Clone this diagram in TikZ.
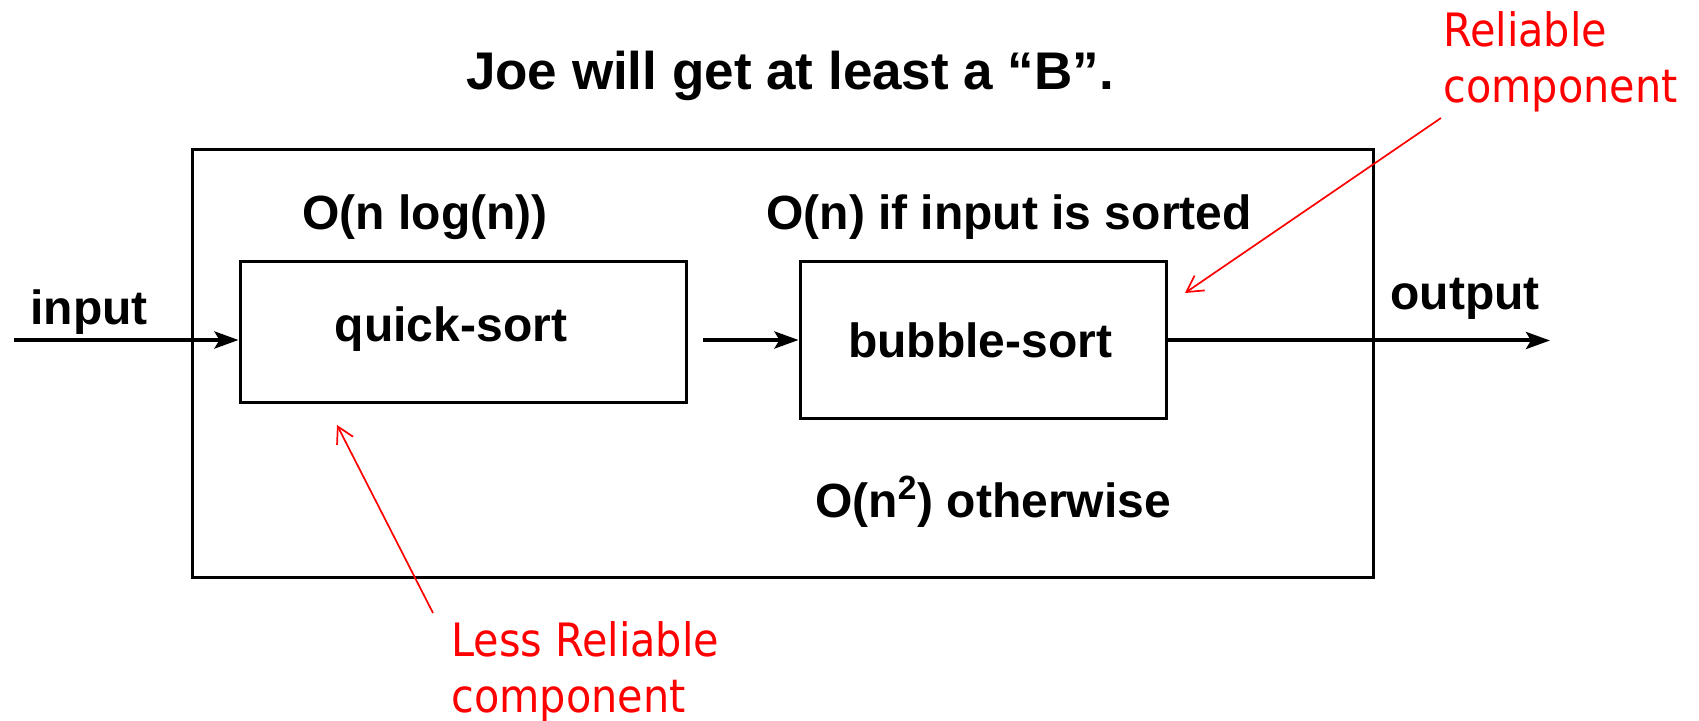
\documentclass[tikz,border=0pt]{standalone}
\usepackage{fontspec}
\setmainfont{Liberation Sans}
\newfontfamily\redfont{DejaVu Sans Condensed}
\usetikzlibrary{arrows.meta}
\begin{document}
\begin{tikzpicture}[x=0.5pt,y=-0.5pt,
  blk/.style={font=\bfseries\fontsize{24}{28}\selectfont, inner sep=0pt},
  redtxt/.style={font=\redfont\fontsize{23}{28}\selectfont, text=red, inner sep=0pt, anchor=base west},
  boxx/.style={draw, line width=1.5pt, inner sep=0pt},
  flow/.style={line width=2pt, -{Stealth[length=12pt,width=8.5pt,inset=2.5pt]}},
  note/.style={draw=red, line width=0.85pt, -{Straight Barb[length=8pt,width=9pt]}}]
\useasboundingbox (0,0) rectangle (1699,721);
% boxes
\node[boxx, minimum width=590.5pt, minimum height=214pt] (outer) at (782.5,364) {};
\node[boxx, minimum width=223pt, minimum height=70.5pt] (quick) at (463,332.5) {};
\node[boxx, minimum width=183pt, minimum height=78.5pt] (bubble) at (983,340.5) {};
% black labels
\node[font=\bfseries\fontsize{26.5}{30}\selectfont, inner sep=0pt, anchor=base] (title) at (790,90) {Joe will get at least a “B”.};
\node[blk, anchor=base] (tq) at (451,342) {quick-sort};
\node[blk, anchor=base] (tb) at (980,358) {bubble-sort};
\node[blk, anchor=base] (cq) at (425,230) {O(n log(n))};
\node[blk, anchor=base] (cb) at (1009,230) {O(n) if input is sorted};
\node[blk, anchor=base] (cw) at (993,518) {O(n\textsuperscript{2}) otherwise};
\node[blk, anchor=base west] (in) at (30,325) {input};
\node[blk, anchor=base west] (out) at (1390,310) {output};
% red labels
\node[redtxt] (relA) at (1443,47) {Reliable};
\node[redtxt] (relB) at (1443,103) {component};
\node[redtxt] (lessA) at (451,657) {Less Reliable};
\node[redtxt] (lessB) at (451,712) {component};
% coordinates
\coordinate (inS) at (14,340);
\coordinate (midS) at (703,340);
\coordinate (outE) at (1550,340.5);
\coordinate (relT) at (1441,118);
\coordinate (relH) at (1185,293);
\coordinate (lessT) at (433,613);
\coordinate (lessH) at (337,425);
% connectors
\draw[flow] (inS) -- (inS -| quick.west);
\draw[flow] (midS) -- (midS -| bubble.west);
\draw[flow] (bubble.east) -- (outE);
\draw[note] (relT) -- (relH);
\draw[note] (lessT) -- (lessH);
\end{tikzpicture}
\end{document}
